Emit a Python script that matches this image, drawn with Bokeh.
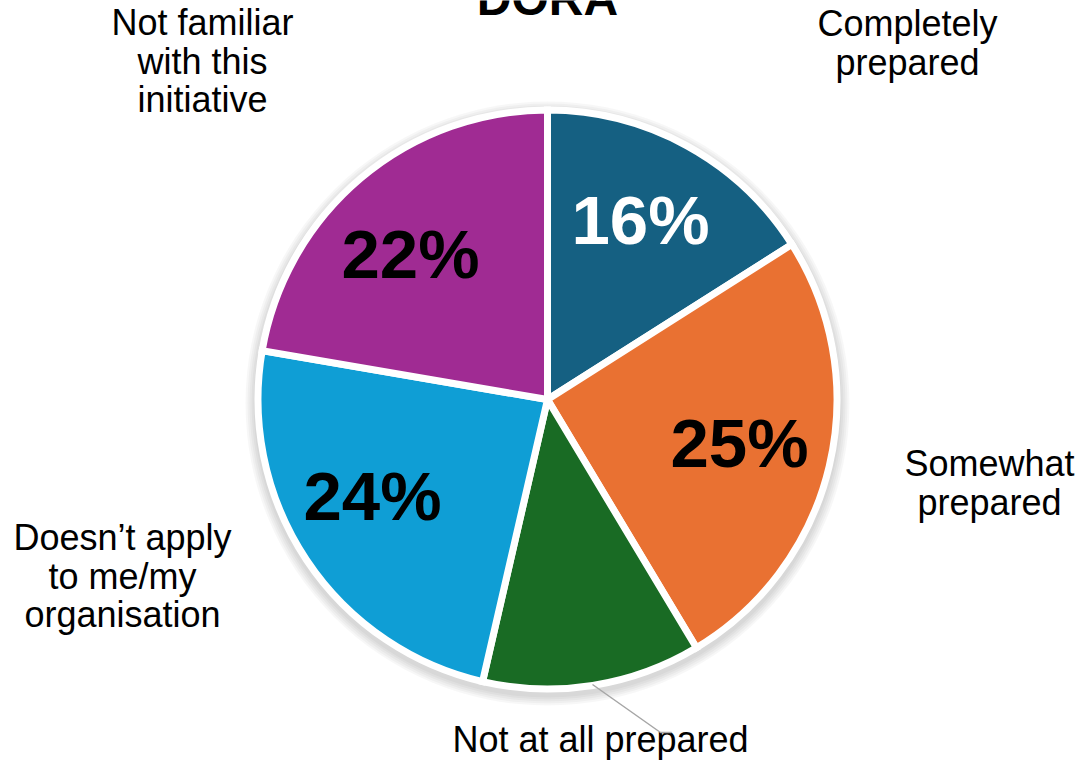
import numpy as np
from bokeh.plotting import figure
from bokeh.models import Range1d, ColumnDataSource
from bokeh.core.properties import value
from bokeh.embed import file_html
from bokeh.resources import INLINE

# ---------------- data ----------------
title = "DORA"
categories = ["Completely prepared", "Somewhat prepared", "Not at all prepared",
              "Doesn’t apply to me/my organisation", "Not familiar with this initiative"]
values = [16.0, 25.4, 12.2, 24.1, 22.3]
colors = ["#156082", "#E97132", "#196B24", "#0F9ED5", "#A02B93"]
pct_text_colors = ["white", "black", "black", "black", "black"]
show_pct = [True, True, False, True, True]

# ---------------- layout ----------------
W, H = 1090, 760
CX, CY = 547, 399          # pie centre (picture pixels)
R = 289.5                  # pie radius (centre of white outline)
label_lines = [["Completely", "prepared"],
               ["Somewhat", "prepared"],
               ["Not at all prepared"],
               ["Doesn’t apply", "to me/my", "organisation"],
               ["Not familiar", "with this", "initiative"]]
label_xy = [(907, 23), (989, 463), (600, 739), (122, 537), (202, 22)]  # first line centre
LINE_H = 38.5
pct_xy = [(640, 220), (739, 443), None, (372, 496), (410, 254)]          # centre
leader = ([592, 660, 671], [684, 732, 732])
FONT = value("Liberation Sans")

p = figure(width=W, height=H, x_range=Range1d(0, W), y_range=Range1d(-H, 0),
           output_backend="svg", toolbar_location=None, tools="", min_border=0,
           x_axis_location=None, y_axis_location=None)
p.grid.visible = False
p.outline_line_color = None
p.background_fill_color = "white"
p.border_fill_color = "white"

# soft shadow
shadow_r = [302, 300, 298, 296, 294]
p.circle(x=[CX] * len(shadow_r), y=[-(CY + 4)] * len(shadow_r), radius=shadow_r,
         fill_color="black", fill_alpha=0.03, line_color=None)

# pie wedges
total = sum(values)
frac = np.array(values) / total
cum = np.concatenate([[0], np.cumsum(frac)])
start = np.pi / 2 - cum[1:] * 2 * np.pi
end = np.pi / 2 - cum[:-1] * 2 * np.pi
src = ColumnDataSource(dict(start=start, end=end, color=colors, cat=categories))
p.wedge(x=CX, y=-CY, radius=R, start_angle="start", end_angle="end",
        fill_color="color", line_color="white", line_width=7, line_join="miter", source=src)

# percentage labels
px, py, pt, pc = [], [], [], []
for v, s, xy, c in zip(values, show_pct, pct_xy, pct_text_colors):
    if s and xy is not None:
        px.append(xy[0]); py.append(-xy[1]); pt.append(f"{round(v)}%"); pc.append(c)
p.text(x=px, y=py, text=pt, text_color=pc, text_font=FONT, text_font_size="69px",
       text_font_style="bold", text_align="center", text_baseline="middle")

# category labels
lx, ly, lt = [], [], []
for lines, (x0, y0) in zip(label_lines, label_xy):
    for i, ln in enumerate(lines):
        lx.append(x0); ly.append(-(y0 + i * LINE_H)); lt.append(ln)
p.text(x=lx, y=ly, text=lt, text_color="black", text_font=FONT, text_font_size="36px",
       text_align="center", text_baseline="middle")

# leader line
p.line(x=leader[0], y=[-v for v in leader[1]], line_color="#A6A6A6", line_width=1.5)

# title
p.text(x=[CX], y=[2], text=[title], text_color="black", text_font=FONT,
       text_font_size="48px", text_font_style="bold", text_align="center",
       text_baseline="middle")

open("out.html", "w").write(file_html(p, INLINE))
